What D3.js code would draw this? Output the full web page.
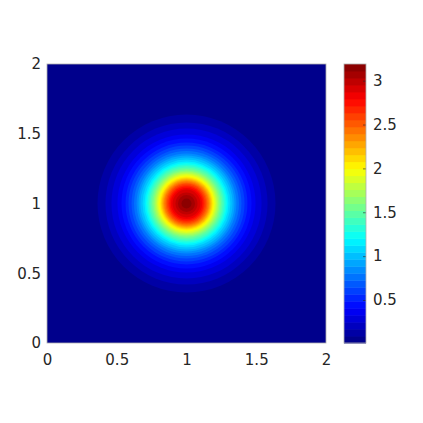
<!DOCTYPE html>
<html>
<head>
<meta charset="utf-8">
<script src="https://cdn.jsdelivr.net/npm/d3@7"></script>
<style>
  body { margin: 0; background: #fff; }
  text { font-family: "DejaVu Sans", sans-serif; font-size: 15px; fill: #262626; }
</style>
</head>
<body>
<div id="chart"></div>
<script>
// contour field: peak at (1,1), value range and
// the radius of each of the 39 filled-contour boundaries (level 1 = outermost)
const center = [1, 1];
const zMin = 0.01, zMax = 3.19;
const nBands = 40;
const ringRadii = [
  0.638, 0.581, 0.538, 0.495, 0.466, 0.437, 0.416, 0.394, 0.376, 0.358,
  0.344, 0.330, 0.315, 0.301, 0.290, 0.280, 0.269, 0.258, 0.247, 0.237,
  0.228, 0.219, 0.211, 0.202, 0.194, 0.186, 0.179, 0.172, 0.165, 0.158,
  0.149, 0.141, 0.131, 0.122, 0.112, 0.100, 0.079, 0.061, 0.036
];
const axisTicks = [0, 0.5, 1, 1.5, 2];
const barTicks = [0.5, 1, 1.5, 2, 2.5, 3];

const width = 423, height = 423;
const plot = { left: 47, right: 326, top: 64, bottom: 343 };
const bar = { left: 344, right: 366 };

const svg = d3.select('#chart').append('svg')
  .attr('width', width)
  .attr('height', height);

const x = d3.scaleLinear().domain([0, 2]).range([plot.left, plot.right]);
const y = d3.scaleLinear().domain([0, 2]).range([plot.bottom, plot.top]);

// jet colormap
const jet = d3.scaleLinear()
  .domain([0, 0.125, 0.375, 0.625, 0.875, 1])
  .range(['#00007f', '#0000ff', '#00ffff', '#ffff00', '#ff0000', '#7f0000']);
const bandColor = i => jet((i + 0.5) / nBands);

// band 0 fills the whole axes
svg.append('rect')
  .attr('x', plot.left)
  .attr('y', plot.top)
  .attr('width', plot.right - plot.left)
  .attr('height', plot.bottom - plot.top)
  .attr('fill', bandColor(0));

// filled contours, outermost first
svg.append('g').selectAll('circle')
  .data(ringRadii)
  .enter().append('circle')
  .attr('cx', x(center[0]))
  .attr('cy', y(center[1]))
  .attr('r', d => x(d) - x(0))
  .attr('fill', (d, i) => bandColor(i + 1));

// axes
const xAxis = svg.append('g')
  .attr('transform', `translate(0,${plot.bottom})`)
  .call(d3.axisBottom(x).tickValues(axisTicks).tickFormat(d3.format('')).tickSize(0).tickPadding(8));
const yAxis = svg.append('g')
  .attr('transform', `translate(${plot.left},0)`)
  .call(d3.axisLeft(y).tickValues(axisTicks).tickFormat(d3.format('')).tickSize(0).tickPadding(6));
[xAxis, yAxis].forEach(g => {
  g.select('.domain').remove();
  g.selectAll('text').style('font-size', '15px').attr('fill', '#262626');
});
xAxis.selectAll('text').attr('dy', '0.95em');

// axes box
svg.append('rect')
  .attr('x', plot.left)
  .attr('y', plot.top)
  .attr('width', plot.right - plot.left)
  .attr('height', plot.bottom - plot.top)
  .attr('fill', 'none')
  .attr('stroke', '#b0b0b0')
  .attr('stroke-width', 0.8);

// colorbar
const cb = d3.scaleLinear().domain([zMin, zMax]).range([plot.bottom, plot.top]);
const step = (zMax - zMin) / nBands;
svg.append('g').selectAll('rect')
  .data(d3.range(nBands))
  .enter().append('rect')
  .attr('x', bar.left)
  .attr('y', i => cb(zMin + (i + 1) * step))
  .attr('width', bar.right - bar.left)
  .attr('height', i => cb(zMin + i * step) - cb(zMin + (i + 1) * step) + 0.5)
  .attr('fill', i => bandColor(i));

const cbAxis = svg.append('g')
  .attr('transform', `translate(${bar.right},0)`)
  .call(d3.axisRight(cb).tickValues(barTicks).tickFormat(d3.format('')).tickSizeInner(-3).tickSizeOuter(0).tickPadding(7));
cbAxis.select('.domain').remove();
cbAxis.selectAll('line').attr('stroke', '#262626').attr('stroke-width', 0.6);
cbAxis.selectAll('text').style('font-size', '15px').attr('fill', '#262626');

svg.append('rect')
  .attr('x', bar.left)
  .attr('y', plot.top)
  .attr('width', bar.right - bar.left)
  .attr('height', plot.bottom - plot.top)
  .attr('fill', 'none')
  .attr('stroke', '#b0b0b0')
  .attr('stroke-width', 0.8);
</script>
</body>
</html>
